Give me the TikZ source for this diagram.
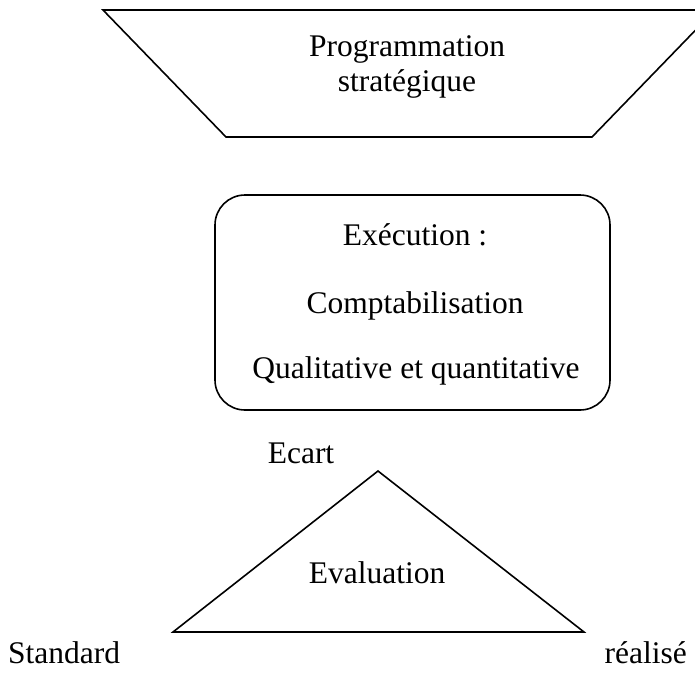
\documentclass[tikz,border=0pt]{standalone}
\usepackage{fontspec}
\setmainfont{Liberation Serif}
\usepackage{tikz}
\usetikzlibrary{calc}
\definecolor{trait}{RGB}{0,0,0}

\tikzset{
  texte/.style={anchor=base, inner sep=0pt, font=\fontsize{31.5}{36}\selectfont},
  forme/.style={trait, line width=1.6pt, line join=miter}
}

\begin{document}
\begin{tikzpicture}[x=1pt, y=-1pt]

    \useasboundingbox (0,0) rectangle (695,673);
    \clip (0,0) rectangle (695,673);

    % programmation
    \draw[forme] (103,10) -- (715,10) -- (592,137) -- (226,137) -- cycle;
    \node[texte] (prog) at (407,56) {Programmation};
    \node[texte] (strat) at (407,91) {stratégique};

    % execution
    \draw[forme, rounded corners=30pt] (215,195) rectangle (610,410);
    \node[texte] (exec) at (415,245) {Exécution :};
    \node[texte] (compta) at (415,313) {Comptabilisation};
    \node[texte] (quali) at (416,378) {Qualitative et quantitative};

    % evaluation
    \draw[forme] (378,471) -- (584,632) -- (173,632) -- cycle;
    \node[texte] (eval) at (377,583) {Evaluation};
    \node[texte] (ecart) at (301,463) {Ecart};
    \node[texte, anchor=base west] (standard) at (8,663) {Standard};
    \node[texte, anchor=base east] (realise) at (687,663) {réalisé};

\end{tikzpicture}
\end{document}
